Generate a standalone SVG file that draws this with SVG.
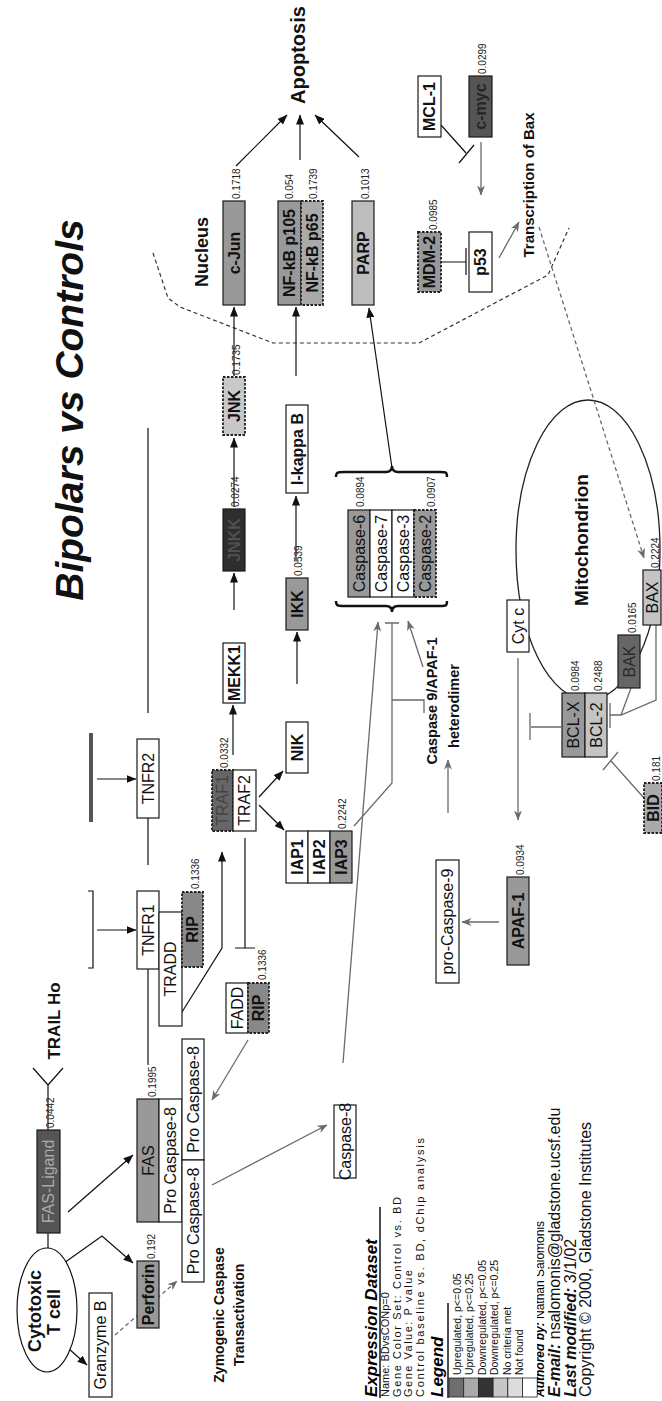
<svg xmlns="http://www.w3.org/2000/svg" width="662" height="1401" viewBox="0 0 662 1401">
<style>
text{font-family:"Liberation Sans",Arial,sans-serif}
.t{font-size:16px;text-anchor:middle;fill:#111}
.b{font-weight:bold}
.v{font-size:10px;fill:#222}
.bx{stroke:#1a1a1a;stroke-width:1.2}
.d{stroke:#222;stroke-width:1.8;stroke-dasharray:2.5 1.5}
.k{stroke:#111;stroke-width:1.2;fill:none}
.g{stroke:#6a6a6a;stroke-width:1.3;fill:none}
.lb{font-weight:bold;text-anchor:middle;fill:#111}
.lg{font-size:10.5px;fill:#111}
.ds{font-size:11px;fill:#111}
.ft{font-size:16px;fill:#111}
.bi{font-weight:bold;font-style:italic}
</style>
<defs>
<marker id="ak" viewBox="0 0 10 8" refX="9.5" refY="4" markerWidth="10" markerHeight="8" markerUnits="userSpaceOnUse" orient="auto"><path d="M0,0L10,4L0,8z" fill="#111"/></marker>
<marker id="ag" viewBox="0 0 10 8" refX="9.5" refY="4" markerWidth="10" markerHeight="8" markerUnits="userSpaceOnUse" orient="auto"><path d="M0,0L10,4L0,8L3,4z" fill="#6a6a6a"/></marker>
<clipPath id="cl"><rect x="537" y="1200" width="10" height="201"/></clipPath>
</defs>
<rect width="662" height="1401" fill="#fff"/>

<g id="mitochondrion-membrane"><ellipse cx="588" cy="550" rx="72" ry="150" fill="none" stroke="#222" stroke-width="1.3"/></g>
<g id="nucleus-boundary"><polyline points="153,253 168,298 180,307 273,343 419,343 548,275 569,228" fill="none" stroke="#333" stroke-width="1.2" stroke-dasharray="4 3"/></g>

<g id="connectors">
<line class="k" x1="68" y1="1212" x2="133" y2="1155" marker-end="url(#ak)"/>
<polyline class="k" points="64,1263 102,1236 133,1263" marker-end="url(#ak)"/>
<line class="k" x1="68" y1="1348" x2="87" y2="1365" marker-end="url(#ak)"/>
<line class="k" x1="97" y1="779" x2="136" y2="779" marker-end="url(#ak)"/>
<line class="k" x1="97" y1="930" x2="136" y2="930" marker-end="url(#ak)"/>
<polyline class="k" points="182,1012 222,948 222,852" marker-end="url(#ak)"/>
<line class="k" x1="233" y1="755" x2="233" y2="705" marker-end="url(#ak)"/>
<line class="k" x1="259" y1="797" x2="283" y2="771" marker-end="url(#ak)"/>
<line class="k" x1="259" y1="805" x2="284" y2="830" marker-end="url(#ak)"/>
<line class="k" x1="234" y1="610" x2="234" y2="573" marker-end="url(#ak)"/>
<line class="k" x1="234" y1="507" x2="234" y2="438" marker-end="url(#ak)"/>
<line class="k" x1="234" y1="376" x2="234" y2="307" marker-end="url(#ak)"/>
<line class="k" x1="297" y1="684" x2="297" y2="632" marker-end="url(#ak)"/>
<line class="k" x1="296" y1="560" x2="296" y2="496" marker-end="url(#ak)"/>
<line class="k" x1="296" y1="376" x2="296" y2="307" marker-end="url(#ak)"/>
<line class="k" x1="236" y1="166" x2="287" y2="115" marker-end="url(#ak)"/>
<line class="k" x1="300" y1="160" x2="300" y2="115" marker-end="url(#ak)"/>
<line class="k" x1="359" y1="157" x2="315" y2="115" marker-end="url(#ak)"/>
<line class="k" x1="392" y1="468" x2="369" y2="308" marker-end="url(#ak)"/>
<line class="g" x1="248" y1="1040" x2="212" y2="1100" marker-end="url(#ag)"/>
<line class="g" x1="212" y1="1185" x2="327" y2="1125" marker-end="url(#ag)"/>
<line class="g" x1="343" y1="1063" x2="378" y2="622" marker-end="url(#ag)"/>
<line class="g" x1="423" y1="667" x2="408" y2="621" marker-end="url(#ag)"/>
<line class="g" x1="448" y1="813" x2="448" y2="760" marker-end="url(#ag)"/>
<line class="g" x1="499" y1="922" x2="462" y2="922" marker-end="url(#ag)"/>
<line class="g" x1="518" y1="658" x2="518" y2="820" marker-end="url(#ag)"/>
<line class="g" x1="481" y1="142" x2="481" y2="195" marker-end="url(#ag)"/>
<line class="g" x1="499" y1="258" x2="519" y2="222" marker-end="url(#ag)"/>
<line class="g" x1="115" y1="1335" x2="177" y2="1281" stroke-dasharray="4 3" marker-end="url(#ag)"/>
<line class="g" x1="539" y1="227" x2="644" y2="558" stroke-dasharray="4 3" marker-end="url(#ag)"/>
<path class="k" d="M441,125L466,153M459,163L474,145" stroke="#333"/>
<path class="k" d="M441,262H466M466,248V275" stroke="#333"/>
<path class="g" d="M354,826L392,783V623M385,623H399M392,700H424V713"/>
<path class="g" d="M561,727H531M530,713V740"/>
<path class="g" d="M631,688L621,715M656,625V700L621,715H610M610,703V728"/>
<path class="g" d="M644,798L611,761M603,770L618,752"/>
<path class="k" d="M245,838V948M235,948H255"/>
<path class="k" d="M48,1233V1248M48,1085V1130M33,1068L48,1085L63,1068"/>
<path class="k" d="M148,969V1065M148,818V865M148,428V713"/>
<rect x="89" y="733" width="4" height="89" fill="#555"/>
<path class="k" d="M88,891H93V968H88"/>
<path d="M336,477C336,472 338,472 344,472L386,472C390,472 392,470 392,466C392,470 394,472 398,472L440,472C446,472 447,472 447,477" fill="none" stroke="#111" stroke-width="2.4"/>
<path d="M336,601C336,606 338,606 344,606L386,606C390,606 392,608 392,612C392,608 394,606 398,606L440,606C446,606 447,606 447,601" fill="none" stroke="#111" stroke-width="2.4"/>
</g>

<g id="cytotoxic-t-cell">
<ellipse cx="47" cy="1310" rx="30" ry="62" fill="#fff" stroke="#111" stroke-width="1.2"/>
<text class="lb" font-size="18" x="41" y="1311" transform="rotate(-90 41 1311)">Cytotoxic</text>
<text class="lb" font-size="18" x="60" y="1312" transform="rotate(-90 60 1312)">T cell</text>
</g>
<g id="fas-ligand"><rect class="bx" x="37" y="1130" width="23" height="103" fill="#555"/><text class="t" style="fill:#aaa" x="48.5" y="1181.5" dy=".35em" transform="rotate(-90 48.5 1181.5)">FAS-Ligand</text><text class="v" x="54" y="1128" transform="rotate(-90 54 1128)">0.0442</text></g>
<g id="granzyme-b"><rect class="bx" x="89" y="1293" width="23" height="104" fill="#fff"/><text class="t" x="100.5" y="1345" dy=".35em" transform="rotate(-90 100.5 1345)">Granzyme B</text></g>
<g id="perforin"><rect class="bx" x="137" y="1261" width="22" height="67" fill="#999"/><text class="t b" x="148" y="1294.5" dy=".35em" transform="rotate(-90 148 1294.5)">Perforin</text><text class="v" x="155" y="1259" transform="rotate(-90 155 1259)">0.192</text></g>
<g id="fas"><rect class="bx" x="137" y="1099" width="22" height="123" fill="#999"/><text class="t" x="148" y="1160.5" dy=".35em" transform="rotate(-90 148 1160.5)">FAS</text><text class="v" x="156" y="1097" transform="rotate(-90 156 1097)">0.1995</text></g>
<g id="pro-caspase-8-a"><rect class="bx" x="159" y="1099" width="23" height="123" fill="#fff"/><text class="t" x="170.5" y="1160.5" dy=".35em" transform="rotate(-90 170.5 1160.5)">Pro Caspase-8</text></g>
<g id="pro-caspase-8-b"><rect class="bx" x="182" y="1039" width="22" height="121" fill="#fff"/><text class="t" x="193" y="1099.5" dy=".35em" transform="rotate(-90 193 1099.5)">Pro Caspase-8</text></g>
<g id="pro-caspase-8-c"><rect class="bx" x="182" y="1160" width="22" height="122" fill="#fff"/><text class="t" x="193" y="1221" dy=".35em" transform="rotate(-90 193 1221)">Pro Caspase-8</text></g>
<g id="caspase-8"><rect class="bx" x="334" y="1105" width="22" height="73" fill="#fff"/><text class="t" x="345" y="1141.5" dy=".35em" transform="rotate(-90 345 1141.5)">Caspase-8</text></g>

<g id="tnfr2"><rect class="bx" x="137" y="739" width="22" height="79" fill="#fff"/><text class="t" x="148" y="778.5" dy=".35em" transform="rotate(-90 148 778.5)">TNFR2</text></g>
<g id="tnfr1"><rect class="bx" x="137" y="891" width="22" height="78" fill="#fff"/><text class="t" x="148" y="930" dy=".35em" transform="rotate(-90 148 930)">TNFR1</text></g>
<g id="tradd"><rect class="bx" x="159" y="912" width="23" height="114" fill="#fff"/><text class="t" x="170.5" y="969" dy=".35em" transform="rotate(-90 170.5 969)">TRADD</text></g>
<g id="rip-1"><rect class="d" x="182" y="892" width="21" height="75" fill="#888"/><text class="t b" x="192.5" y="929.5" dy=".35em" transform="rotate(-90 192.5 929.5)">RIP</text><text class="v" x="199" y="889" transform="rotate(-90 199 889)">0.1336</text></g>
<g id="fadd"><rect class="bx" x="226" y="983" width="22" height="50" fill="#fff"/><text class="t" x="237" y="1008" dy=".35em" transform="rotate(-90 237 1008)">FADD</text></g>
<g id="rip-2"><rect class="d" x="248" y="983" width="21" height="50" fill="#888"/><text class="t b" x="258.5" y="1008" dy=".35em" transform="rotate(-90 258.5 1008)">RIP</text><text class="v" x="266" y="980" transform="rotate(-90 266 980)">0.1336</text></g>
<g id="traf1"><rect class="d" x="212" y="770" width="21" height="61" fill="#666"/><text class="t" style="fill:#444" x="222.5" y="800.5" dy=".35em" transform="rotate(-90 222.5 800.5)">TRAF1</text><text class="v" x="228" y="768" transform="rotate(-90 228 768)">0.0332</text></g>
<g id="traf2"><rect class="bx" x="233" y="770" width="23" height="61" fill="#fff"/><text class="t" x="244.5" y="800.5" dy=".35em" transform="rotate(-90 244.5 800.5)">TRAF2</text></g>
<g id="mekk1"><rect class="bx" x="223" y="643" width="22" height="60" fill="#fff"/><text class="t b" x="234" y="673" dy=".35em" transform="rotate(-90 234 673)">MEKK1</text></g>
<g id="jnkk"><rect class="bx" x="223" y="509" width="22" height="62" fill="#2e2e2e"/><text class="t b" style="fill:#505050" x="234" y="540" dy=".35em" transform="rotate(-90 234 540)">JNKK</text><text class="v" x="239" y="507" transform="rotate(-90 239 507)">0.0274</text></g>
<g id="jnk"><rect class="d" x="223" y="377" width="22" height="58" fill="#c8c8c8"/><text class="t b" x="234" y="406" dy=".35em" transform="rotate(-90 234 406)">JNK</text><text class="v" x="240" y="375" transform="rotate(-90 240 375)">0.1735</text></g>
<g id="c-jun"><rect class="bx" x="223" y="201" width="22" height="104" fill="#999"/><text class="t b" x="234" y="253" dy=".35em" transform="rotate(-90 234 253)">c-Jun</text><text class="v" x="240" y="199" transform="rotate(-90 240 199)">0.1718</text></g>
<g id="nik"><rect class="bx" x="286" y="722" width="22" height="51" fill="#fff"/><text class="t b" x="297" y="747.5" dy=".35em" transform="rotate(-90 297 747.5)">NIK</text></g>
<g id="ikk"><rect class="bx" x="286" y="578" width="22" height="52" fill="#999"/><text class="t b" x="297" y="604" dy=".35em" transform="rotate(-90 297 604)">IKK</text><text class="v" x="302" y="576" transform="rotate(-90 302 576)">0.0539</text></g>
<g id="i-kappa-b"><rect class="bx" x="286" y="405" width="22" height="88" fill="#fff"/><text class="t b" x="297" y="449" dy=".35em" transform="rotate(-90 297 449)">I-kappa B</text></g>
<g id="nf-kb-p105"><rect class="bx" x="278" y="201" width="23" height="104" fill="#999"/><text class="t b" x="289.5" y="253" dy=".35em" transform="rotate(-90 289.5 253)">NF-kB p105</text><text class="v" x="293" y="199" transform="rotate(-90 293 199)">0.054</text></g>
<g id="nf-kb-p65"><rect class="d" x="301" y="201" width="22" height="104" fill="#aaa"/><text class="t b" x="312" y="253" dy=".35em" transform="rotate(-90 312 253)">NF-kB p65</text><text class="v" x="317" y="199" transform="rotate(-90 317 199)">0.1739</text></g>
<g id="iap1"><rect class="bx" x="286" y="831" width="22" height="52" fill="#fff"/><text class="t b" x="297" y="857" dy=".35em" transform="rotate(-90 297 857)">IAP1</text></g>
<g id="iap2"><rect class="bx" x="308" y="831" width="22" height="52" fill="#fff"/><text class="t b" x="319" y="857" dy=".35em" transform="rotate(-90 319 857)">IAP2</text></g>
<g id="iap3"><rect class="bx" x="330" y="831" width="22" height="52" fill="#999"/><text class="t b" x="341" y="857" dy=".35em" transform="rotate(-90 341 857)">IAP3</text><text class="v" x="346" y="829" transform="rotate(-90 346 829)">0.2242</text></g>

<g id="caspase-6"><rect class="bx" x="348" y="510" width="22" height="87" fill="#999"/><text class="t" x="359" y="553.5" dy=".35em" transform="rotate(-90 359 553.5)">Caspase-6</text><text class="v" x="364" y="507" transform="rotate(-90 364 507)">0.0894</text></g>
<g id="caspase-7"><rect class="bx" x="370" y="510" width="22" height="87" fill="#fff"/><text class="t" x="381" y="553.5" dy=".35em" transform="rotate(-90 381 553.5)">Caspase-7</text></g>
<g id="caspase-3"><rect class="bx" x="392" y="510" width="22" height="87" fill="#fff"/><text class="t" x="403" y="553.5" dy=".35em" transform="rotate(-90 403 553.5)">Caspase-3</text></g>
<g id="caspase-2"><rect class="d" x="414" y="510" width="22" height="87" fill="#999"/><text class="t" x="425" y="553.5" dy=".35em" transform="rotate(-90 425 553.5)">Caspase-2</text><text class="v" x="435" y="507" transform="rotate(-90 435 507)">0.0907</text></g>
<g id="parp"><rect class="bx" x="352" y="201" width="22" height="104" fill="#bdbdbd"/><text class="t b" x="363" y="253" dy=".35em" transform="rotate(-90 363 253)">PARP</text><text class="v" x="369" y="199" transform="rotate(-90 369 199)">0.1013</text></g>
<g id="mdm-2"><rect class="d" x="418" y="232" width="23" height="60" fill="#999"/><text class="t b" x="429.5" y="262" dy=".35em" transform="rotate(-90 429.5 262)">MDM-2</text><text class="v" x="437" y="230" transform="rotate(-90 437 230)">0.0985</text></g>
<g id="p53"><rect class="bx" x="469" y="232" width="23" height="60" fill="#fff"/><text class="t b" x="480.5" y="262" dy=".35em" transform="rotate(-90 480.5 262)">p53</text></g>
<g id="mcl-1"><rect class="bx" x="418" y="76" width="23" height="61" fill="#fff"/><text class="t b" x="429.5" y="106.5" dy=".35em" transform="rotate(-90 429.5 106.5)">MCL-1</text></g>
<g id="c-myc"><rect class="bx" x="469" y="76" width="23" height="61" fill="#555"/><text class="t b" style="fill:#262626" x="480.5" y="106.5" dy=".35em" transform="rotate(-90 480.5 106.5)">c-myc</text><text class="v" x="486" y="74" transform="rotate(-90 486 74)">0.0299</text></g>
<g id="pro-caspase-9"><rect class="bx" x="436" y="860" width="23" height="123" fill="#fff"/><text class="t" x="447.5" y="921.5" dy=".35em" transform="rotate(-90 447.5 921.5)">pro-Caspase-9</text></g>
<g id="apaf-1"><rect class="bx" x="507" y="877" width="22" height="88" fill="#999"/><text class="t b" x="518" y="921" dy=".35em" transform="rotate(-90 518 921)">APAF-1</text><text class="v" x="524" y="875" transform="rotate(-90 524 875)">0.0934</text></g>
<g id="cyt-c"><rect class="bx" x="507" y="600" width="22" height="52" fill="#fff"/><text class="t" x="518" y="626" dy=".35em" transform="rotate(-90 518 626)">Cyt c</text></g>
<g id="bcl-x"><rect class="bx" x="562" y="693" width="23" height="64" fill="#999"/><text class="t" x="573.5" y="725" dy=".35em" transform="rotate(-90 573.5 725)">BCL-X</text><text class="v" x="579" y="691" transform="rotate(-90 579 691)">0.0984</text></g>
<g id="bcl-2"><rect class="bx" x="585" y="693" width="22" height="64" fill="#c4c4c4"/><text class="t" x="596" y="725" dy=".35em" transform="rotate(-90 596 725)">BCL-2</text><text class="v" x="602" y="691" transform="rotate(-90 602 691)">0.2488</text></g>
<g id="bak"><rect class="bx" x="618" y="635" width="22" height="53" fill="#666"/><text class="t" style="fill:#2a2a2a" x="629" y="661.5" dy=".35em" transform="rotate(-90 629 661.5)">BAK</text><text class="v" x="636" y="633" transform="rotate(-90 636 633)">0.0165</text></g>
<g id="bax"><rect class="bx" x="643" y="570" width="18" height="55" fill="#c4c4c4"/><text class="t" font-size="15" x="652.5" y="597.5" dy=".35em" transform="rotate(-90 652.5 597.5)">BAX</text><text class="v" x="659" y="568" transform="rotate(-90 659 568)">0.2224</text></g>
<g id="bid"><rect class="d" x="644" y="783" width="18" height="50" fill="#aaa"/><text class="t b" font-size="15" x="653.5" y="808" dy=".35em" transform="rotate(-90 653.5 808)">BID</text><text class="v" x="660" y="781" transform="rotate(-90 660 781)">0.181</text></g>

<g id="labels">
<text class="lb bi" font-size="39" x="83" y="410" transform="rotate(-90 83 410)">Bipolars vs Controls</text>
<text class="lb" font-size="20" x="305" y="55" transform="rotate(-90 305 55)">Apoptosis</text>
<text class="lb" font-size="18" x="208" y="252" transform="rotate(-90 208 252)">Nucleus</text>
<text class="lb" font-size="15" x="534" y="185" transform="rotate(-90 534 185)">Transcription of Bax</text>
<text class="lb" font-size="19" x="588" y="540" transform="rotate(-90 588 540)">Mitochondrion</text>
<text class="lb" font-size="17" x="60" y="1021" transform="rotate(-90 60 1021)">TRAIL Ho</text>
<text class="lb" font-size="14" x="224" y="1315" transform="rotate(-90 224 1315)">Zymogenic Caspase</text>
<text class="lb" font-size="14" x="244" y="1315" transform="rotate(-90 244 1315)">Transactivation</text>
<text class="lb" font-size="14.5" x="437" y="701" transform="rotate(-90 437 701)">Caspase 9/APAF-1</text>
<text class="lb" font-size="14.5" x="459" y="706" transform="rotate(-90 459 706)">heterodimer</text>
</g>

<g id="legend">
<g transform="rotate(-90 0 1397)">
<text class="bi" font-size="17" x="0" y="1774">Expression Dataset</text>
<text class="ds" font-size="9.5" x="0" y="1786">Name: BDvsCONp=0</text>
<text class="ds" x="0" y="1797.5" textLength="200" lengthAdjust="spacing">Gene Color Set: Control vs. BD</text>
<text class="ds" x="0" y="1809" textLength="127" lengthAdjust="spacing">Gene Value: P value</text>
<text class="ds" x="0" y="1821" textLength="259" lengthAdjust="spacing">Control baseline vs. BD, dChip analysis</text>
<text class="bi" font-size="17" x="0" y="1840">Legend</text>
<text class="lg" x="22" y="1857.5">Upregulated, p&lt;=0.05</text>
<text class="lg" x="22" y="1870">Upregulated, p&lt;=0.25</text>
<text class="lg" x="22" y="1882.5">Downregulated, p&lt;=0.05</text>
<text class="lg" x="22" y="1895">Downregulated, p&lt;=0.25</text>
<text class="lg" x="22" y="1907.5">No criteria met</text>
<text class="lg" x="22" y="1920">Not found</text>
</g>
<line x1="380" y1="1207" x2="380" y2="1398" stroke="#111" stroke-width="1.5"/>
<line x1="448" y1="1303" x2="448" y2="1398" stroke="#111" stroke-width="1.5"/>
<rect x="449" y="1378" width="14.7" height="19" fill="#6e6e6e" stroke="#222" stroke-width="0.8"/>
<rect x="463.7" y="1378" width="14.7" height="19" fill="#aaa" stroke="#222" stroke-width="0.8"/>
<rect x="478.4" y="1378" width="14.7" height="19" fill="#333" stroke="#222" stroke-width="0.8"/>
<rect x="493.1" y="1378" width="14.7" height="19" fill="#c6c6c6" stroke="#222" stroke-width="0.8"/>
<rect x="507.8" y="1378" width="14.7" height="19" fill="#dcdcdc" stroke="#222" stroke-width="0.8"/>
<rect x="522.5" y="1378" width="14.7" height="19" fill="#fff" stroke="#222" stroke-width="0.8"/>
<g clip-path="url(#cl)"><text font-size="12" x="544" y="1397" transform="rotate(-90 544 1397)"><tspan class="bi">Authored by:</tspan> Nathan Salomonis</text></g>
<text class="ft" x="560" y="1397" transform="rotate(-90 560 1397)"><tspan class="bi">E-mail:</tspan> nsalomonis@gladstone.ucsf.edu</text>
<text class="ft" x="576" y="1397" transform="rotate(-90 576 1397)"><tspan class="bi">Last modified:</tspan> 3/1/02</text>
<text class="ft" x="591" y="1397" transform="rotate(-90 591 1397)">Copyright © 2000, Gladstone Institutes</text>
</g>
</svg>
